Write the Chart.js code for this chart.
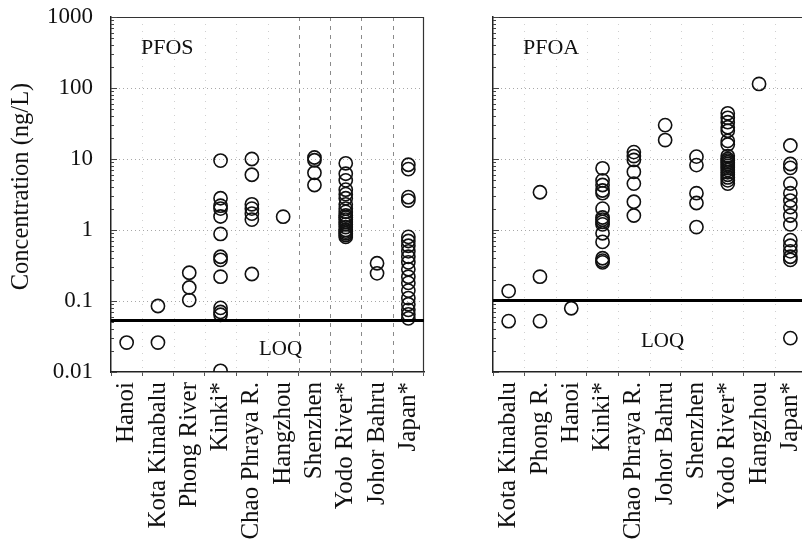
<!DOCTYPE html>
<html><head><meta charset="utf-8">
<script src="https://cdn.jsdelivr.net/npm/chart.js@4/dist/chart.umd.min.js"></script>
<style>
html,body{margin:0;padding:0;background:#fff;overflow:hidden;width:802px;height:542px;}
#wrapA{position:absolute;left:0;top:0;width:440px;height:542px;}
#wrapB{position:absolute;left:440px;top:0;width:380px;height:542px;}
canvas{display:block;}
</style></head><body>
<div id="wrapA"><canvas id="cA" width="440" height="542"></canvas></div>
<div id="wrapB"><canvas id="cB" width="380" height="542"></canvas></div>
<script>
// ---------- DATA ----------
const yTickLabels = ['0.01', '0.1', '1', '10', '100', '1000'];
const yAxisTitle = 'Concentration (ng/L)';
const pfosCategories = ['Hanoi', 'Kota Kinabalu', 'Phong River', 'Kinki*', 'Chao Phraya R.', 'Hangzhou', 'Shenzhen', 'Yodo River*', 'Johor Bahru', 'Japan*'];
const pfosValues = [
  [0.026],
  [0.085, 0.026],
  [0.25, 0.155, 0.103],
  [9.5, 2.8, 2.2, 2.0, 1.55, 0.88, 0.42, 0.38, 0.22, 0.08, 0.07, 0.064, 0.0104],
  [10, 6.0, 2.3, 2.0, 1.7, 1.4, 0.24],
  [1.54],
  [10.5, 9.6, 6.4, 4.3],
  [8.7, 6.2, 5.0, 3.7, 3.2, 2.8, 2.3, 2.0, 1.8, 1.6, 1.5, 1.4, 1.3, 1.2, 1.1, 1.0, 0.95, 0.9, 0.85, 0.8],
  [0.34, 0.245],
  [8.3, 7.2, 2.9, 2.6, 0.80, 0.70, 0.60, 0.50, 0.42, 0.35, 0.28, 0.22, 0.18, 0.14, 0.11, 0.09, 0.075, 0.065, 0.057]
];
const pfosLOQ = 0.053;

const pfoaCategories = ['Kota Kinabalu', 'Phong R.', 'Hanoi', 'Kinki*', 'Chao Phraya R.', 'Johor Bahru', 'Shenzhen', 'Yodo River*', 'Hangzhou', 'Japan*'];
const pfoaValues = [
  [0.138, 0.052],
  [3.4, 0.22, 0.052],
  [0.079],
  [7.4, 5.0, 4.3, 3.6, 3.3, 2.0, 1.5, 1.4, 1.3, 1.2, 0.9, 0.68, 0.40, 0.37, 0.35],
  [12.5, 11, 9.7, 6.6, 4.5, 2.5, 1.6],
  [30, 18.5],
  [10.8, 8.2, 3.3, 2.4, 1.1],
  [44, 38, 33, 28, 25, 18, 16, 11, 10, 9.5, 9, 8.5, 8, 7.5, 7, 6.5, 6, 5.5, 5, 4.5],
  [114],
  [15.5, 8.5, 7.5, 4.5, 3.3, 2.6, 2.1, 1.6, 1.2, 0.72, 0.6, 0.5, 0.42, 0.38, 0.03]
];
const pfoaLOQ = 0.102;

// ---------- DRAWING ----------
const SERIF = "'Liberation Serif', 'DejaVu Serif', serif";

function toPoints(cats, vals) {
  const pts = [];
  cats.forEach((c, i) => vals[i].forEach(v => pts.push({x: c, y: v})));
  return pts;
}

function panelPlugin(cfg) {
  return {
    id: 'panel' + cfg.name,
    beforeDatasetsDraw(chart) {
      const {ctx, chartArea: a, scales: {x, y}} = chart;
      ctx.save();
      // horizontal decade grid
      ctx.strokeStyle = '#a8a8a8';
      ctx.lineWidth = 1;
      ctx.setLineDash([1, 3]);
      for (let d = -1; d <= 2; d++) {
        const py = Math.round(y.getPixelForValue(Math.pow(10, d))) + 0.5;
        ctx.beginPath(); ctx.moveTo(a.left, py); ctx.lineTo(a.right, py); ctx.stroke();
      }
      // vertical boundaries
      for (let i = 1; i < cfg.cats.length; i++) {
        const px = Math.round((x.getPixelForValue(i - 1) + x.getPixelForValue(i)) / 2) + 0.5;
        const strong = cfg.strongFrom !== null && i >= cfg.strongFrom;
        ctx.strokeStyle = strong ? '#8a8a8a' : '#d0d0d0';
        ctx.setLineDash(strong ? [4, 5] : [1, 6]);
        ctx.beginPath(); ctx.moveTo(px, a.top); ctx.lineTo(px, a.bottom); ctx.stroke();
      }
      ctx.setLineDash([]);
      // frame
      ctx.strokeStyle = '#333';
      ctx.lineWidth = 1.2;
      ctx.beginPath();
      ctx.moveTo(a.left, a.top + 0.5); ctx.lineTo(a.right, a.top + 0.5);
      ctx.moveTo(a.right - 0.5, a.top); ctx.lineTo(a.right - 0.5, a.bottom);
      ctx.stroke();
      // inward y ticks
      ctx.strokeStyle = '#444';
      ctx.lineWidth = 1;
      for (let d = -2; d <= 3; d++) {
        for (let k = 1; k <= 9; k++) {
          if (d === 3 && k > 1) break;
          const py = Math.round(y.getPixelForValue(k * Math.pow(10, d))) + 0.5;
          const len = k === 1 ? 6 : 3;
          ctx.beginPath(); ctx.moveTo(a.left, py); ctx.lineTo(a.left + len, py); ctx.stroke();
        }
      }
      ctx.restore();
    },
    afterDatasetsDraw(chart) {
      const {ctx, chartArea: a, scales: {y}} = chart;
      ctx.save();
      const py = y.getPixelForValue(cfg.loq);
      ctx.strokeStyle = '#000';
      ctx.lineWidth = 3;
      ctx.beginPath(); ctx.moveTo(a.left, py); ctx.lineTo(a.right, py); ctx.stroke();
      ctx.fillStyle = '#111';
      ctx.textBaseline = 'alphabetic';
      ctx.textAlign = 'left';
      ctx.font = '22px ' + SERIF;
      ctx.fillText(cfg.name, a.left + 30, a.top + 37);
      ctx.font = '21px ' + SERIF;
      ctx.fillText('LOQ', a.left + 148, cfg.loqTextY);
      if (cfg.showY) {
        ctx.translate(22, (a.top + a.bottom) / 2 - 8);
        ctx.rotate(-Math.PI / 2);
        ctx.textAlign = 'center';
        ctx.textBaseline = 'middle';
        ctx.font = '24.5px ' + SERIF;
        ctx.fillText(yAxisTitle, 0, 0);
      }
      ctx.restore();
    }
  };
}

function makeChart(canvasId, cfg) {
  return new Chart(document.getElementById(canvasId), {
    type: 'scatter',
    data: {datasets: [{
      data: toPoints(cfg.cats, cfg.vals),
      pointRadius: 6.6, pointHoverRadius: 6.6,
      borderColor: '#111', backgroundColor: 'rgba(0,0,0,0)', borderWidth: 1.6
    }]},
    options: {
      responsive: false, animation: false, events: [],
      layout: {padding: {top: cfg.padTop, right: cfg.padRight, left: 0, bottom: 0}},
      plugins: {legend: {display: false}, tooltip: {enabled: false}},
      scales: {
        x: {
          type: 'category', labels: cfg.cats, offset: true,
          grid: {offset: true, drawOnChartArea: false, drawTicks: true, tickLength: 4, tickColor: '#555'},
          border: {color: '#222', width: 1.5},
          ticks: {autoSkip: false, maxRotation: 90, minRotation: 90, padding: 6,
                  font: {family: SERIF, size: 25}, color: '#111'},
          afterFit: s => { s.height = 170; s.paddingLeft = 0; s.paddingRight = 0; }
        },
        y: {
          type: 'logarithmic', min: 0.01, max: 1000,
          grid: {drawOnChartArea: false, drawTicks: true, tickLength: 18, tickColor: 'rgba(0,0,0,0)'},
          border: {color: '#222', width: 1.5},
          ticks: {
            display: cfg.showY, autoSkip: false, padding: 0,
            font: {family: SERIF, size: 23}, color: '#111',
            callback: v => {
              const l = Math.log10(v);
              return Math.abs(l - Math.round(l)) < 1e-6 ? yTickLabels[Math.round(l) + 2] : '';
            }
          },
          afterFit: s => { s.width = cfg.yWidth; s.paddingTop = 0; s.paddingBottom = 0; }
        }
      }
    },
    plugins: [panelPlugin(cfg)]
  });
}

makeChart('cA', {name: 'PFOS', cats: pfosCategories, vals: pfosValues, loq: pfosLOQ,
  showY: true, yWidth: 111, padTop: 17, padRight: 16, strongFrom: 6, loqTextY: 355});
makeChart('cB', {name: 'PFOA', cats: pfoaCategories, vals: pfoaValues, loq: pfoaLOQ,
  showY: false, yWidth: 53, padTop: 17, padRight: 14, strongFrom: null, loqTextY: 347});
</script>
</body></html>
